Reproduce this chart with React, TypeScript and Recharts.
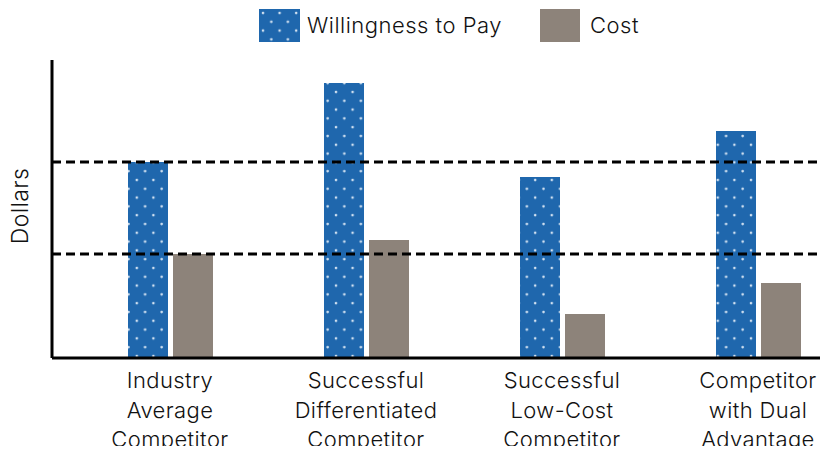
import React from "react";
import {
  Bar,
  BarChart,
  Legend,
  ReferenceLine,
  XAxis,
  YAxis,
} from "recharts";

// categories and values (0-100 scale, 100 = top of the axis)
const categories = [
  "Industry\nAverage\nCompetitor",
  "Successful\nDifferentiated\nCompetitor",
  "Successful\nLow-Cost\nCompetitor",
  "Competitor\nwith Dual\nAdvantage",
];
const willingnessToPay = [65.8, 92.3, 60.7, 76.2];
const cost = [34.9, 39.6, 14.8, 25.2];

const data = categories.map((name, i) => ({
  name,
  wtp: willingnessToPay[i],
  cost: cost[i],
}));

const FONT = "Inter, 'Noto Sans', sans-serif";
const BLUE = "#1f67ad";
const GREY = "#8d837a";

const DotPattern = ({ id }: { id: string }) => (
  <pattern id={id} patternUnits="userSpaceOnUse" width={16.6} height={17.6}>
    <rect width={16.6} height={17.6} fill={BLUE} />
    <circle cx={4} cy={4} r={1.3} fill="#d4e3f2" />
    <circle cx={12.3} cy={12.8} r={1.3} fill="#d4e3f2" />
  </pattern>
);

const CategoryTick = (props: any) => {
  const { x, y, payload } = props;
  const lines = String(payload.value).split("\n");
  return (
    <text
      x={x}
      y={y}
      textAnchor="middle"
      fill="#111"
      style={{ fontSize: 22, fontFamily: FONT, fontWeight: 300, letterSpacing: 0.4 }}
    >
      {lines.map((line: string, i: number) => (
        <tspan key={i} x={x} dy={i === 0 ? 22 : 29.5}>
          {line}
        </tspan>
      ))}
    </text>
  );
};

const renderLegend = () => (
  <div
    style={{
      display: "flex",
      alignItems: "center",
      height: 50,
      paddingLeft: 259,
      fontFamily: FONT,
      fontWeight: 300,
      fontSize: 22,
      letterSpacing: 0.5,
      color: "#111",
    }}
  >
    <svg width={41} height={33} style={{ marginRight: 7 }}>
      <defs>
        <DotPattern id="legendDots" />
      </defs>
      <rect width={41} height={33} fill="url(#legendDots)" />
    </svg>
    <span>Willingness to Pay</span>
    <span
      style={{
        display: "inline-block",
        width: 40,
        height: 33,
        background: GREY,
        marginLeft: 38,
        marginRight: 10,
      }}
    />
    <span>Cost</span>
  </div>
);

const DollarsLabel = () => (
  <text
    x={20}
    y={206}
    transform="rotate(-90, 20, 206)"
    textAnchor="middle"
    dominantBaseline="central"
    fill="#111"
    fontSize={23}
    style={{ fontSize: 23, fontFamily: FONT, fontWeight: 300, letterSpacing: 0.4 }}
  >
    Dollars
  </text>
);

export default function App() {
  return (
    <div style={{ margin: -8, width: 828, height: 454, overflow: "hidden", background: "#fff" }}>
      <BarChart
        width={860}
        height={454}
        data={data}
        margin={{ top: 10, right: 4, left: 0, bottom: 0 }}
        barSize={40}
        barGap={5}
      >
        <defs>
          <DotPattern id="wtpDots" />
        </defs>
        <Legend
          verticalAlign="top"
          height={50}
          content={renderLegend}
          wrapperStyle={{ top: 0, left: 0, width: 828 }}
        />
        <XAxis
          dataKey="name"
          height={96}
          interval={0}
          padding={{ left: 20 }}
          axisLine={{ stroke: "#000", strokeWidth: 3 }}
          tickLine={false}
          tick={<CategoryTick />}
        />
        <YAxis
          width={52}
          domain={[0, 100]}
          tick={false}
          tickLine={false}
          axisLine={{ stroke: "#000", strokeWidth: 3 }}
          label={<DollarsLabel />}
        />
        <Bar dataKey="wtp" name="Willingness to Pay" fill="url(#wtpDots)" isAnimationActive={false} />
        <Bar dataKey="cost" name="Cost" fill={GREY} isAnimationActive={false} />
        <ReferenceLine y={willingnessToPay[0]} stroke="#000" strokeWidth={3} strokeDasharray="9 5" />
        <ReferenceLine y={cost[0]} stroke="#000" strokeWidth={3} strokeDasharray="9 5" />
      </BarChart>
    </div>
  );
}
